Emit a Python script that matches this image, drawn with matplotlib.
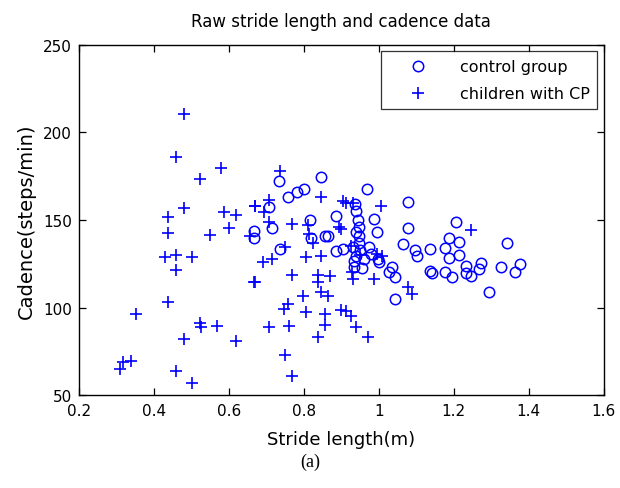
import matplotlib
matplotlib.use("Agg")
import matplotlib.pyplot as plt

# control group (stride length m, cadence steps/min)
ctrl_x = [0.733, 0.759, 0.781, 0.801, 0.845, 0.708, 0.715, 0.667, 0.667, 0.737,
          0.816, 0.857, 0.886, 0.886, 0.864, 0.904, 0.968, 0.936, 0.940, 0.945,
          0.948, 0.948, 0.939, 0.948, 0.930, 0.939, 0.935, 0.935, 0.956, 0.974,
          0.978, 0.999, 0.987, 0.996, 1.077, 1.077, 1.064, 1.097, 1.103, 1.136,
          1.035, 1.027, 1.044, 1.044, 1.136, 1.143, 1.176, 1.196, 1.207, 1.187,
          1.215, 1.176, 1.215, 1.187, 1.233, 1.233, 1.246, 1.268, 1.272, 1.325,
          1.343, 1.363, 1.376, 1.293, 0.820, 0.950, 0.960, 1.000]
ctrl_y = [172.5, 163.3, 165.8, 167.7, 174.4, 157.5, 145.2, 143.9, 139.5, 133.4,
          150.0, 140.7, 152.5, 132.5, 141.0, 133.4, 167.7, 159.1, 155.0, 150.0,
          146.0, 141.0, 143.0, 137.0, 134.4, 129.6, 126.8, 123.0, 122.4, 134.4,
          130.6, 128.0, 150.6, 143.0, 160.1, 145.2, 136.3, 132.9, 129.3, 133.4,
          123.0, 120.1, 117.3, 104.9, 121.0, 119.7, 120.5, 117.3, 148.7, 139.5,
          137.6, 133.8, 130.0, 128.1, 124.0, 119.7, 118.2, 122.0, 125.4, 123.3,
          136.9, 120.5, 124.9, 108.7, 140.0, 133.0, 128.0, 126.0]

# children with CP
cp_x = [0.481, 0.459, 0.579, 0.522, 0.481, 0.439, 0.439, 0.550, 0.587, 0.619,
        0.601, 0.669, 0.656, 0.430, 0.460, 0.502, 0.460, 0.666, 0.439, 0.353,
        0.522, 0.525, 0.568, 0.481, 0.619, 0.318, 0.340, 0.309, 0.459, 0.502,
        0.737, 0.845, 0.670, 0.708, 0.693, 0.707, 0.768, 0.810, 0.815, 0.825,
        0.904, 0.895, 0.751, 0.691, 0.715, 0.807, 0.845, 0.670, 0.768, 0.838,
        0.869, 0.838, 0.845, 0.864, 0.799, 0.759, 0.746, 0.807, 0.857, 0.900,
        0.912, 0.857, 0.708, 0.761, 0.838, 0.749, 0.768, 0.926, 0.939, 0.970,
        0.928, 0.987, 1.079, 1.088, 1.005, 0.913, 0.900, 0.925, 0.996, 1.009,
        0.930, 1.246, 0.930, 0.950]
cp_y = [210.4, 186.0, 179.9, 173.2, 156.7, 151.9, 142.6, 141.6, 154.8, 152.9,
        145.6, 158.2, 141.0, 128.7, 130.2, 128.7, 121.4, 114.4, 103.3, 96.1,
        91.1, 89.0, 89.2, 82.0, 81.1, 69.0, 69.5, 64.9, 63.7, 56.9,
        178.2, 163.3, 157.8, 161.5, 154.8, 149.0, 147.7, 147.0, 142.0, 137.0,
        161.0, 145.8, 134.4, 125.8, 127.7, 128.7, 129.6, 114.8, 118.6, 118.6,
        117.8, 114.4, 108.7, 106.4, 106.4, 102.0, 99.1, 97.3, 96.3, 98.8,
        98.2, 90.0, 88.7, 89.3, 83.3, 72.9, 61.0, 95.3, 88.7, 83.0,
        120.1, 116.3, 111.6, 107.7, 157.8, 159.7, 144.9, 135.0, 130.6, 129.6,
        116.3, 144.5, 160.0, 130.0]

x_ticks = [0.2, 0.4, 0.6, 0.8, 1.0, 1.2, 1.4, 1.6]
x_tick_labels = ["0.2", "0.4", "0.6", "0.8", "1", "1.2", "1.4", "1.6"]
y_ticks = [50, 100, 150, 200, 250]

plt.rcParams['font.family'] = ['DejaVu Sans']

fig = plt.figure(figsize=(6.2, 4.89), dpi=100)
ax = fig.add_axes([0.127, 0.19, 0.847, 0.716])

blue = '#0000ff'
ax.plot(ctrl_x, ctrl_y, linestyle='none', marker='o', markersize=7.5,
        markerfacecolor='none', markeredgecolor=blue, markeredgewidth=1.1,
        label='control group')
ax.plot(cp_x, cp_y, linestyle='none', marker='+', markersize=9,
        markeredgecolor=blue, markeredgewidth=1.2, label='children with CP')

ax.set_xlim(0.2, 1.6)
ax.set_ylim(50, 250)
ax.set_xticks(x_ticks)
ax.set_xticklabels(x_tick_labels)
ax.set_yticks(y_ticks)
ax.tick_params(direction='in', top=True, right=True, length=5, width=0.9,
               labelsize=11)
ax.tick_params(axis='x', pad=6)
ax.tick_params(axis='y', pad=5)
for s in ax.spines.values():
    s.set_linewidth(1.0)

ax.set_title('Raw stride length and cadence data', fontsize=12, pad=14)
ax.set_xlabel('Stride length(m)', fontsize=13, labelpad=8)
ax.set_ylabel('Cadence(steps/min)', fontsize=14, labelpad=5)

leg = ax.legend(loc='upper right', fontsize=11.5, frameon=True, fancybox=False,
                edgecolor='black', borderaxespad=0.4, handletextpad=0.8,
                borderpad=0.5, labelspacing=0.75, handlelength=3.6)
leg.get_frame().set_linewidth(0.9)

fig.text(0.5, 0.055, '(a)', ha='center', va='center', fontsize=13,
         family=['Liberation Serif', 'DejaVu Serif'])

fig.savefig('out.png', dpi=100, facecolor='white')
